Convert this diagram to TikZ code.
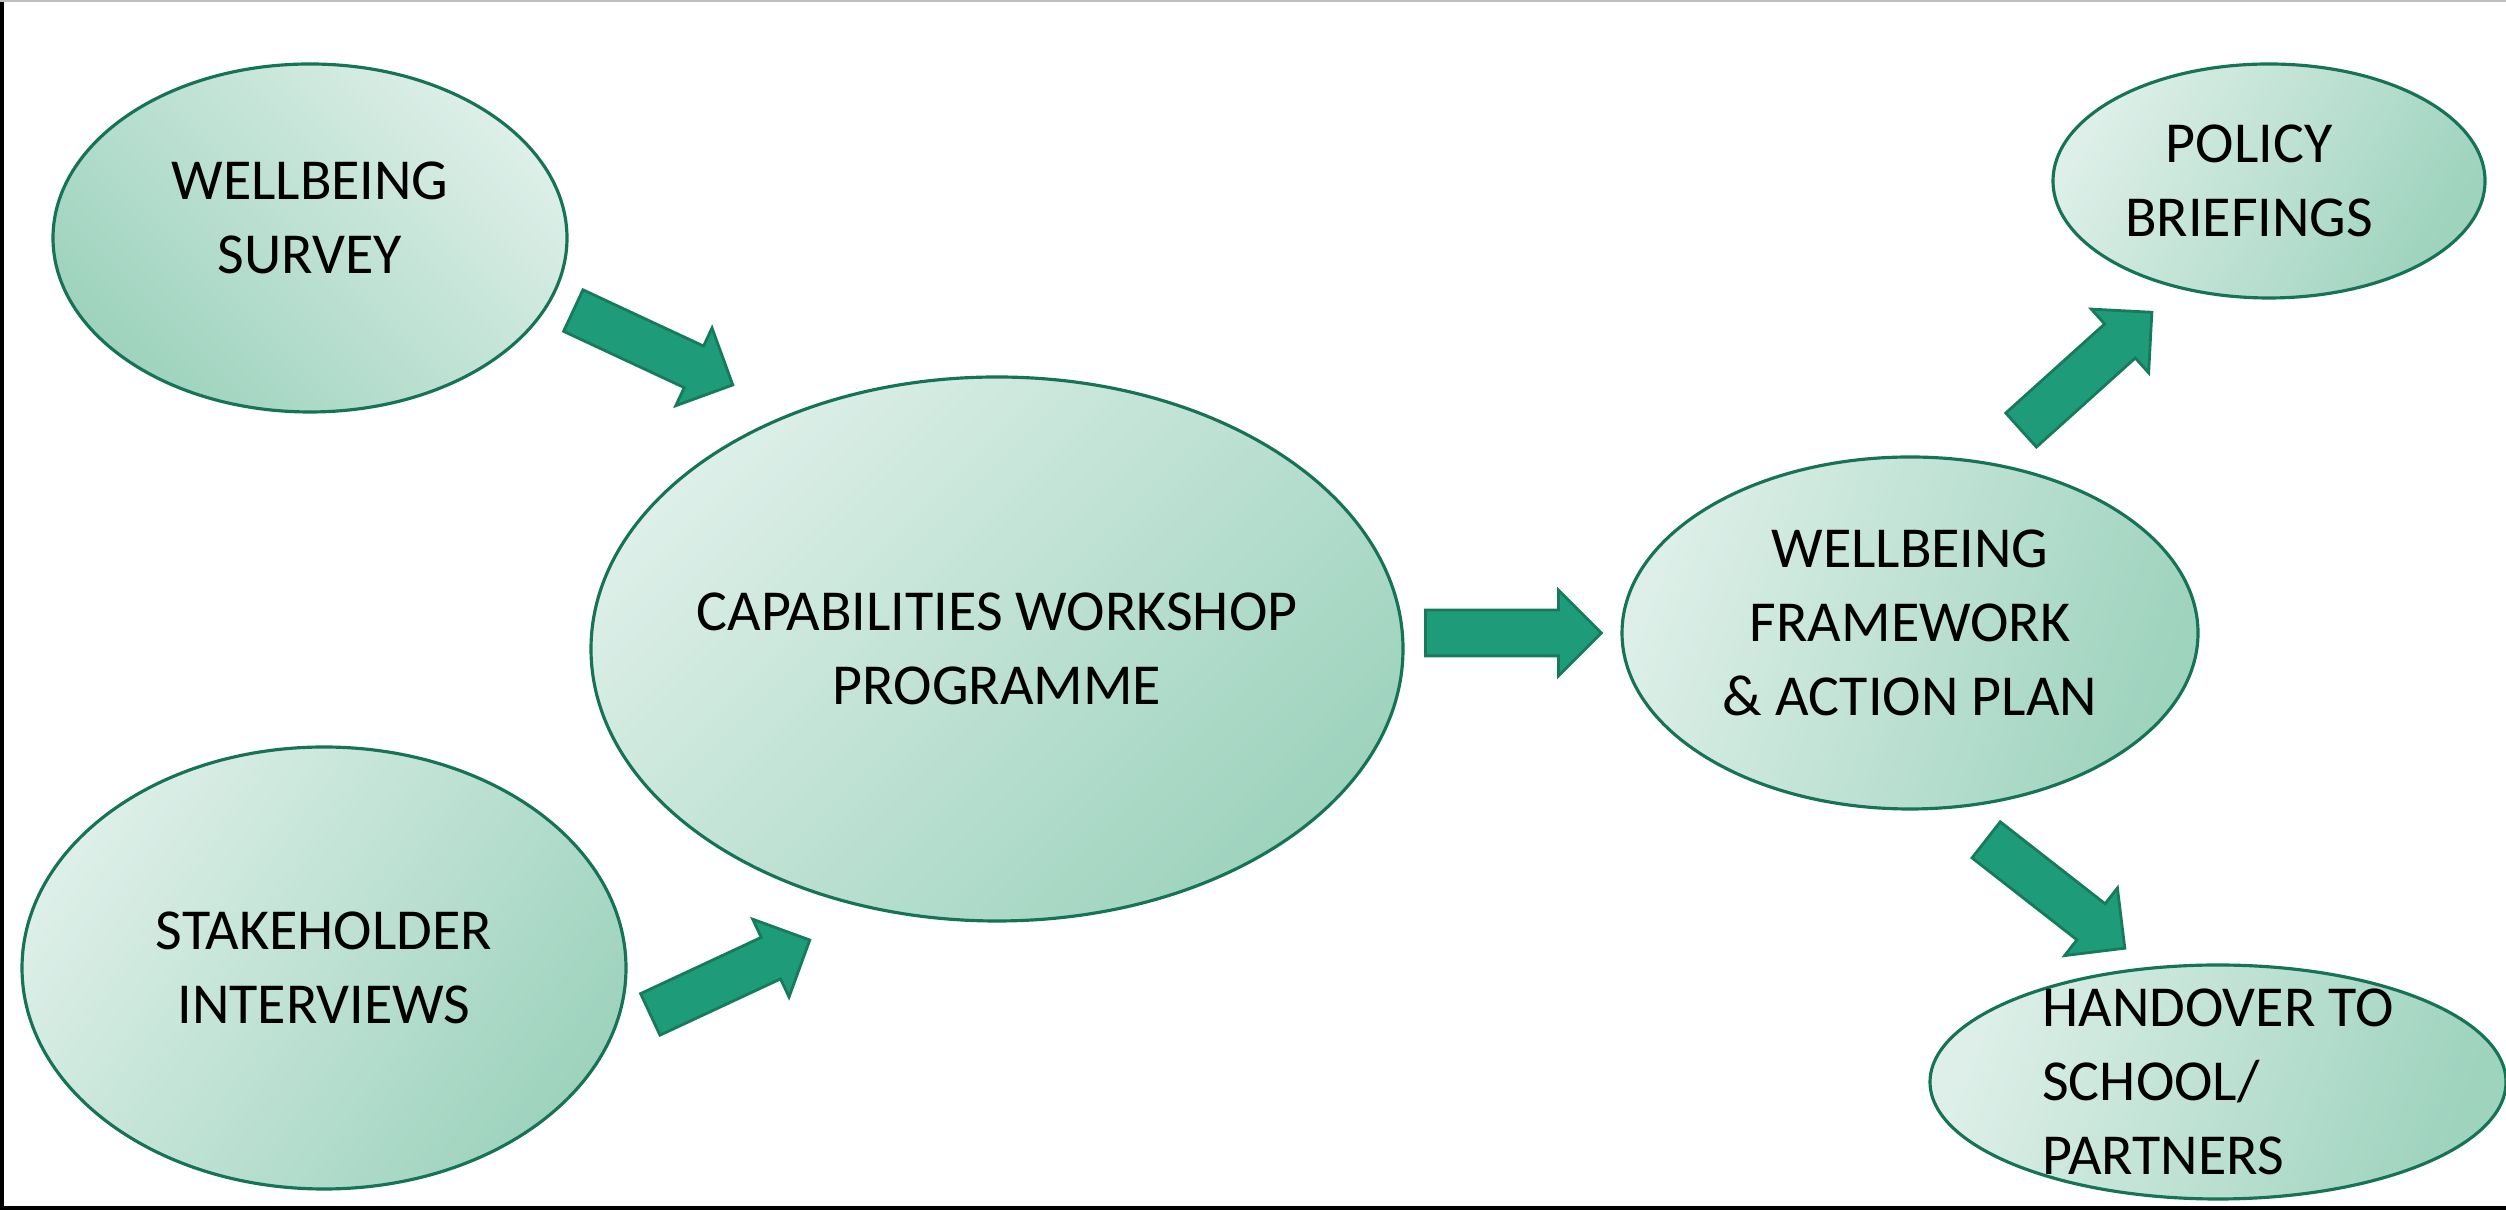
\documentclass[tikz,border=0pt]{standalone}
\usepackage{fontspec}
\setmainfont{Carlito}
\usetikzlibrary{shapes.geometric,shapes.arrows}
\definecolor{palegreen}{RGB}{221,239,232}
\definecolor{softgreen}{RGB}{158,211,190}
\definecolor{rimgreen}{RGB}{22,115,86}
\definecolor{arrowgreen}{RGB}{30,155,120}
\definecolor{arrowrim}{RGB}{24,122,92}
\tikzset{every node/.style={align=center}, font=\fontsize{16.5}{21}\selectfont}

\begin{document}
\begin{tikzpicture}[
    bubble/.style={ellipse, draw=rimgreen, line width=0.9pt, inner sep=0pt},
    paler/.style={top color=palegreen, bottom color=softgreen, shading angle=#1},
    push/.style={single arrow, fill=arrowgreen, draw=arrowrim, line width=0.8pt,
                 minimum height=1.76cm, single arrow head extend=0.2cm,
                 inner xsep=0pt, inner ysep=0.215cm, anchor=tail, rotate=#1}]
    \useasboundingbox (0,0) rectangle (25.06,12.10);
    \fill[black] (0,0) rectangle (0.045,12.10);
    \fill[black] (0,0) rectangle (25.06,0.035);
    \draw[black!25, line width=0.6pt] (0,12.09) -- (25.06,12.09);

    % sources
    \node[bubble, paler=-45, minimum width=5.14cm, minimum height=3.48cm,
          label={[yshift=2mm]center:{WELLBEING\\SURVEY}}] (survey) at (3.10,9.72) {};
    \node[bubble, paler=55, minimum width=6.04cm, minimum height=4.42cm,
          label={center:{STAKEHOLDER\\INTERVIEWS}}] (interviews) at (3.24,2.42) {};
    % workshops
    \node[bubble, paler=45, minimum width=8.12cm, minimum height=5.44cm,
          label={center:{CAPABILITIES WORKSHOP\\PROGRAMME}}] (workshop) at (9.97,5.61) {};
    % outputs
    \node[bubble, paler=70, minimum width=5.76cm, minimum height=3.52cm,
          label={[yshift=1mm]center:{WELLBEING\\FRAMEWORK\\\& ACTION PLAN}}] (framework) at (19.10,5.77) {};
    \node[bubble, paler=60, minimum width=4.32cm, minimum height=2.34cm,
          label={[xshift=-2mm]center:{POLICY\\BRIEFINGS}}] (policy) at (22.69,10.29) {};
    \node[bubble, paler=70, minimum width=5.76cm, minimum height=2.34cm,
          label={[align=left]center:{HANDOVER TO\\SCHOOL/\\PARTNERS}}] (handover) at (22.18,1.28) {};

    \node[push=-25] (survey-workshop) at (5.72,9.00) {};
    \node[push=25] (interviews-workshop) at (6.49,1.95) {};
    \node[push=0] (workshop-framework) at (14.24,5.77) {};
    \node[push=42] (framework-policy) at (20.20,7.79) {};
    \node[push=-38] (framework-handover) at (19.85,3.71) {};
\end{tikzpicture}
\end{document}
